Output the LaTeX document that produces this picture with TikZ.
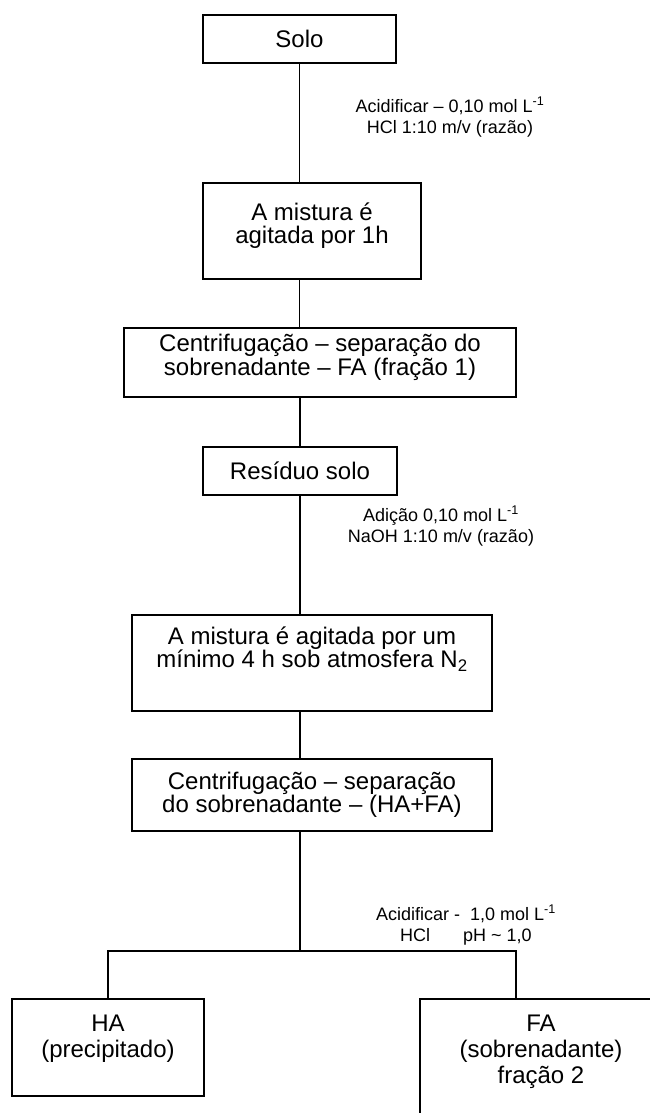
\documentclass[tikz,border=0pt]{standalone}
\usepackage{fontspec}
\setmainfont{Liberation Sans}
\usetikzlibrary{positioning}

\begin{document}
\begin{tikzpicture}[x=1pt,y=-1pt,line width=1.5pt]
    \tikzset{stage/.style={draw, align=center, inner sep=0pt, font=\fontsize{24}{23}\selectfont},
             note/.style={align=center, inner sep=0pt, font=\fontsize{18}{21}\selectfont}}
    \useasboundingbox (0,0) rectangle (649,1113);
    % etapas
    \node[stage, minimum width=193, minimum height=48] (solo) at (299.5,39) {Solo};
    \node[stage, minimum width=218, minimum height=96, text depth=15pt] (mist1) at (312,231) {A mistura é\\agitada por 1h};
    \node[stage, minimum width=392, minimum height=69, text depth=15pt, font=\fontsize{24}{21}\selectfont] (cent1) at (320,362.5) {Centrifugação – separação do\\sobrenadante – FA (fração 1)};
    \node[stage, minimum width=194, minimum height=48] (resid) at (300,471) {Resíduo solo};
    \node[stage, minimum width=360, minimum height=96, text depth=31pt] (mist2) at (312,663) {A mistura é agitada por um\\mínimo 4 h sob atmosfera N\textsubscript{2}};
    \node[stage, minimum width=360, minimum height=72] (cent2) at (312,795) {Centrifugação – separação\\do sobrenadante – (HA+FA)};
    \node[stage, minimum width=192, minimum height=97, text depth=22pt, font=\fontsize{24}{26}\selectfont] (ha) at (108,1047.5) {HA\\(precipitado)};
    \node[stage, minimum width=242, minimum height=126, text depth=25pt, font=\fontsize{24}{26}\selectfont] (fa) at (541,1062) {FA\\(sobrenadante)\\fração 2};
    % condicoes
    \node[note] (acid1) at (450,117) {Acidificar – 0,10 mol L\textsuperscript{-1}\\HCl 1:10 m/v (razão)};
    \node[note] (naoh) at (441,526) {Adição 0,10 mol L\textsuperscript{-1}\\NaOH 1:10 m/v (razão)};
    \node[note] (acid2) at (466,925) {Acidificar -\ \ 1,0 mol L\textsuperscript{-1}\\HCl\hspace{33pt}pH \textasciitilde{} 1,0};
    % ligacoes
    \coordinate (split) at (300,951);
    \coordinate (fajoin) at (516,951);
    \draw (solo.south) -- (solo.south |- mist1.north);
    \draw (mist1.south -| solo) -- (solo |- cent1.north);
    \draw (cent1.south -| resid) -- (resid.north);
    \draw (resid.south) -- (resid.south |- mist2.north);
    \draw (mist2.south -| resid) -- (resid |- cent2.north);
    \draw (cent2.south -| split) -- (split);
    \draw (ha.north) |- (fajoin) -- (fajoin |- fa.north);
\end{tikzpicture}
\end{document}
